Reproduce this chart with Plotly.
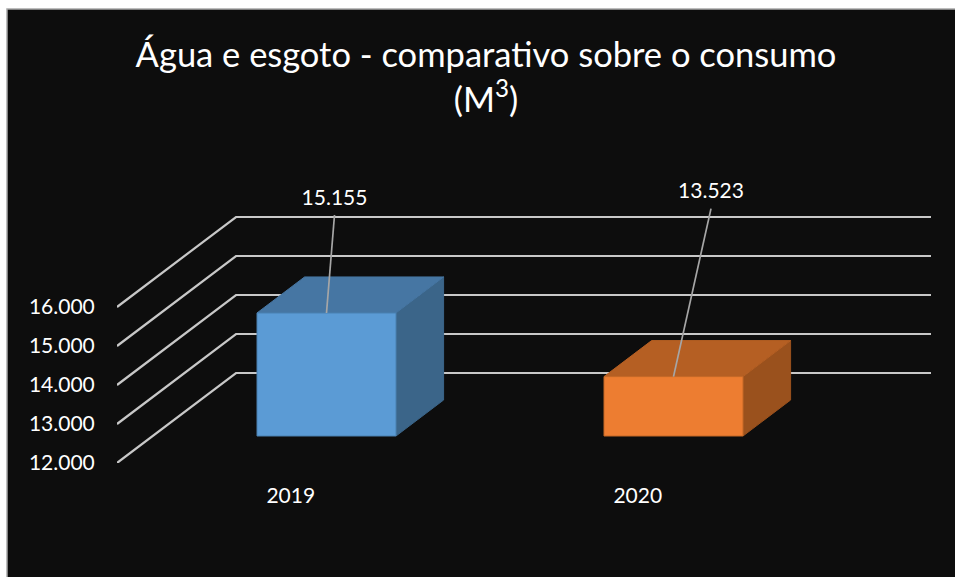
import plotly.graph_objects as go

# Data
categories = ["2019", "2020"]
values = [15155, 13523]
y_ticks = [12000, 13000, 14000, 15000, 16000]
title_text = "Água e esgoto - comparativo sobre o consumo<br>(M<sup>3</sup>)"

# Colours
front = ["#5b9bd5", "#ed7d31"]
top = ["#4676a3", "#b55f23"]
side = ["#3b6589", "#9a511d"]
edge = ["#4a80b0", "#c46827"]
BG = "#0d0d0d"
GRID = "#c8c8c8"
LEADER = "#a6a6a6"
FONT = "Lato"

# Layout geometry (window pixels)
W, H = 955, 577
L, R, T, B = 117, 931, 150, 463
PX_PER_CAT = 347.0
PX_PER_VAL = 0.039
X0_PX = 290.8
DEPTH_PX = (119.0, 90.0)

dx_full = DEPTH_PX[0] / PX_PER_CAT
dv_full = DEPTH_PX[1] / PX_PER_VAL
xr = [(L - X0_PX) / PX_PER_CAT, (R - X0_PX) / PX_PER_CAT]
base = y_ticks[0]
yr = [base, base + (B - T) / PX_PER_VAL]
BAR_W = 139 / PX_PER_CAT
T0, T1 = 0.3, 0.7   # bar's position through the depth of the chart
leader_offsets_px = [(8, -98), (37.5, -168)]
LABEL_GAP_PX = 5


def project(x, v, t):
    return x + dx_full * t, v + dv_full * t


fig = go.Figure()

# Gridlines: side wall then back wall
for v in y_ticks:
    p0 = project(xr[0], v, 0)
    p1 = project(xr[0], v, 1)
    fig.add_trace(go.Scatter(x=[p0[0], p1[0], xr[1]], y=[p0[1], p1[1], p1[1]],
                             mode="lines", line=dict(color=GRID, width=2.2),
                             hoverinfo="skip", showlegend=False))


def poly(points, fill, line):
    xs = [p[0] for p in points] + [points[0][0]]
    ys = [p[1] for p in points] + [points[0][1]]
    fig.add_trace(go.Scatter(x=xs, y=ys, mode="lines", fill="toself", fillcolor=fill,
                             line=dict(color=line, width=1), hoverinfo="skip",
                             showlegend=False))


for i, (cat, val) in enumerate(zip(categories, values)):
    a, b = i - BAR_W / 2, i + BAR_W / 2
    poly([project(b, base, T0), project(b, base, T1), project(b, val, T1), project(b, val, T0)],
         side[i], side[i])
    poly([project(a, val, T0), project(b, val, T0), project(b, val, T1), project(a, val, T1)],
         top[i], top[i])
    poly([project(a, base, T0), project(b, base, T0), project(b, val, T0), project(a, val, T0)],
         front[i], edge[i])

# Leader lines and data labels
for i, val in enumerate(values):
    sx, sy = project(i, val, T0)
    ox, oy = leader_offsets_px[i]
    ex, ey = sx + ox / PX_PER_CAT, sy - oy / PX_PER_VAL
    fig.add_trace(go.Scatter(x=[sx, ex], y=[sy, ey], mode="lines",
                             line=dict(color=LEADER, width=1.7),
                             hoverinfo="skip", showlegend=False))
    fig.add_trace(go.Scatter(x=[ex], y=[ey + LABEL_GAP_PX / PX_PER_VAL], mode="text",
                             text=[f"{val:,}".replace(",", ".")],
                             textposition="top center",
                             textfont=dict(family=FONT, size=21, color="#ffffff"),
                             hoverinfo="skip", showlegend=False))

# Dark chart area with its thin grey frame, over a white page
fig.add_shape(type="rect", xref="paper", yref="paper", layer="below",
              x0=(7 - L) / (R - L), x1=(W + 5 - L) / (R - L),
              y0=(B - H - 5) / (B - T), y1=(B - 9) / (B - T),
              fillcolor=BG, line=dict(color="#a8a8a8", width=1.5))

fig.update_layout(
    width=W, height=H,
    margin=dict(l=L, r=W - R, t=T, b=H - B, pad=0, autoexpand=False),
    paper_bgcolor="#ffffff", plot_bgcolor="rgba(0,0,0,0)",
    separators=",.",
    showlegend=False,
    font=dict(family=FONT, color="#ffffff"),
    title=dict(text=title_text, x=486 / W, xanchor="center", y=1 - 67 / H, yanchor="top",
               font=dict(family=FONT, size=34.5, color="#ffffff")),
    xaxis=dict(range=xr, tickvals=list(range(len(categories))), ticktext=categories,
               showgrid=False, zeroline=False, showline=False,
               ticks="outside", ticklen=14, tickcolor="rgba(0,0,0,0)",
               tickfont=dict(family=FONT, size=21, color="#ffffff")),
    yaxis=dict(range=yr, tickvals=y_ticks, tickformat=",d",
               showgrid=False, zeroline=False, showline=False,
               ticks="outside", ticklen=17, tickcolor="rgba(0,0,0,0)",
               tickfont=dict(family=FONT, size=21, color="#ffffff")),
)

fig.write_html("out.html", config=dict(displayModeBar=False),
               post_script="document.body.style.margin='0';document.documentElement.style.overflow='hidden';")
